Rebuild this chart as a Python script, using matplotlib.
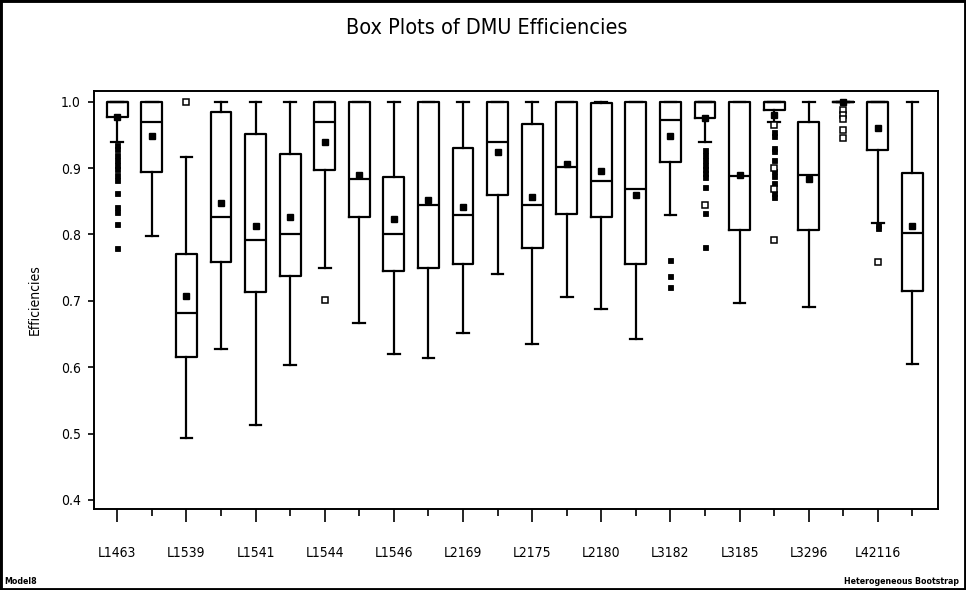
import matplotlib
matplotlib.use("Agg")
import matplotlib.pyplot as plt
from matplotlib import font_manager
from matplotlib.font_manager import FontProperties
from matplotlib.patches import Rectangle


def _is_narrow(f):
    n = f.name.lower()
    return "narrow" in n or "condensed" in n or f.stretch in ("condensed", "semi-condensed")


def _weight(f):
    w = f.weight
    if isinstance(w, str):
        return {"normal": 400, "regular": 400, "bold": 700}.get(w, 400)
    return w


# narrow sans faces for the labels (regular and bold), if installed
_fonts = [f for f in font_manager.fontManager.ttflist if _is_narrow(f) and f.style == "normal"]
_regular = next((f.fname for f in _fonts if _weight(f) == 400), None)
_bold = next((f.fname for f in _fonts if _weight(f) >= 600), None)


def fp(size, bold=False):
    path = _bold if (bold and _bold) else _regular
    if path:
        return FontProperties(fname=path, size=size)
    return FontProperties(family="Liberation Sans", size=size * 0.85,
                          weight="bold" if bold else "normal")


# DMU labels (shown under every other box)
labels = ["L1463", "L1539", "L1541", "L1544", "L1546", "L2169",
          "L2175", "L2180", "L3182", "L3185", "L3296", "L42116"]

# five-number summaries and means for the 24 boxes
q1 = [0.977, 0.894, 0.616, 0.758, 0.713, 0.737, 0.897, 0.826, 0.745, 0.749, 0.755, 0.859,
      0.779, 0.831, 0.826, 0.755, 0.909, 0.976, 0.806, 0.987, 0.806, 1.000, 0.927, 0.715]
med = [1.000, 0.969, 0.682, 0.826, 0.791, 0.801, 0.969, 0.884, 0.801, 0.844, 0.829, 0.939,
       0.844, 0.902, 0.881, 0.868, 0.973, 1.000, 0.888, 1.000, 0.890, 1.000, 1.000, 0.802]
q3 = [1.000, 1.000, 0.770, 0.985, 0.952, 0.921, 1.000, 1.000, 0.887, 1.000, 0.930, 1.000,
      0.967, 1.000, 0.998, 1.000, 1.000, 1.000, 1.000, 1.000, 0.970, 1.000, 1.000, 0.893]
whis_lo = [0.939, 0.798, 0.494, 0.627, 0.513, 0.604, 0.749, 0.666, 0.620, 0.614, 0.651, 0.740,
           0.635, 0.706, 0.687, 0.642, 0.829, 0.939, 0.697, 0.970, 0.691, 1.000, 0.817, 0.605]
whis_hi = [1.000, 1.000, 0.917, 1.000, 1.000, 1.000, 1.000, 1.000, 1.000, 1.000, 1.000, 1.000,
           1.000, 1.000, 1.000, 1.000, 1.000, 1.000, 1.000, 1.000, 1.000, 1.000, 1.000, 1.000]
means = [0.977, 0.948, 0.707, 0.847, 0.813, 0.827, 0.939, 0.889, 0.823, 0.852, 0.841, 0.924,
         0.856, 0.906, 0.896, 0.859, 0.948, 0.976, 0.889, 0.980, 0.884, 1.000, 0.961, 0.813]

# outliers: box number -> values
near_out = {
    1: [0.935, 0.928, 0.920, 0.912, 0.905, 0.898, 0.890, 0.882, 0.862, 0.842, 0.834, 0.816, 0.779],
    17: [0.761, 0.738, 0.721],
    18: [0.927, 0.920, 0.912, 0.905, 0.898, 0.892, 0.886, 0.871, 0.832, 0.781],
    20: [0.955, 0.948, 0.930, 0.925, 0.912, 0.895, 0.888, 0.878, 0.862, 0.857],
    23: [0.814, 0.809],
}
far_out = {
    3: [1.000],
    7: [0.702],
    18: [0.844],
    20: [0.965, 0.900, 0.868, 0.791],
    22: [0.987, 0.980, 0.974, 0.957, 0.945],
    23: [0.759],
}

W, H = 966, 590
fig = plt.figure(figsize=(W / 100, H / 100), dpi=100)
ax = fig.add_axes([94 / W, 1 - 509 / H, (938 - 94) / W, (509 - 91) / H])

stats = []
for i in range(24):
    stats.append(dict(q1=q1[i], med=med[i], q3=q3[i], whislo=whis_lo[i],
                      whishi=whis_hi[i], mean=means[i], fliers=[]))

lw = 1.6
positions = list(range(1, 25))
ax.bxp(stats, positions=positions, widths=0.6, capwidths=0.34,
       showmeans=True, showfliers=False, patch_artist=False,
       boxprops=dict(color="black", linewidth=lw),
       medianprops=dict(color="black", linewidth=lw),
       whiskerprops=dict(color="black", linewidth=lw),
       capprops=dict(color="black", linewidth=lw),
       meanprops=dict(marker="s", markersize=4.5, markerfacecolor="black",
                      markeredgecolor="black"))

for b, vals in near_out.items():
    ax.plot([b] * len(vals), vals, linestyle="none", marker="s", markersize=3.6,
            markerfacecolor="black", markeredgecolor="black", markeredgewidth=0.6)
for b, vals in far_out.items():
    ax.plot([b] * len(vals), vals, linestyle="none", marker="s", markersize=4.2,
            markerfacecolor="white", markeredgecolor="black", markeredgewidth=1.1)

ax.set_xlim(0.326, 24.74)
ax.set_ylim(0.3864, 1.0161)

ax.set_yticks([0.4, 0.5, 0.6, 0.7, 0.8, 0.9, 1.0])
ax.set_yticklabels(["0.4", "0.5", "0.6", "0.7", "0.8", "0.9", "1.0"], fontproperties=fp(10))
ax.tick_params(axis="y", direction="out", length=4.5, width=1.2, pad=5)

ax.set_xticks(positions[0::2])
ax.set_xticklabels(labels, fontproperties=fp(10))
ax.set_xticks(positions[1::2], minor=True)
ax.tick_params(axis="x", which="major", direction="out", length=9.5, width=1.2, pad=17)
ax.tick_params(axis="x", which="minor", direction="out", length=5, width=1.2)

for s in ax.spines.values():
    s.set_linewidth(1.4)

ax.set_ylabel("Efficiencies", fontproperties=fp(10), labelpad=14)

fig.text(487 / W, 1 - 28 / H, "Box Plots of DMU Efficiencies", ha="center", va="center",
         fontproperties=fp(15.5))

fig.text(4 / W, 1 - 581 / H, "Model8", ha="left", va="center",
         fontproperties=fp(6.3, bold=True))
fig.text(959 / W, 1 - 581 / H, "Heterogeneous Bootstrap", ha="right", va="center",
         fontproperties=fp(6.3, bold=True))

fig.patches.append(Rectangle((0, 0), 1, 1, transform=fig.transFigure, fill=False,
                             edgecolor="black", linewidth=3.5, zorder=10))

fig.savefig("out.png", dpi=100)
